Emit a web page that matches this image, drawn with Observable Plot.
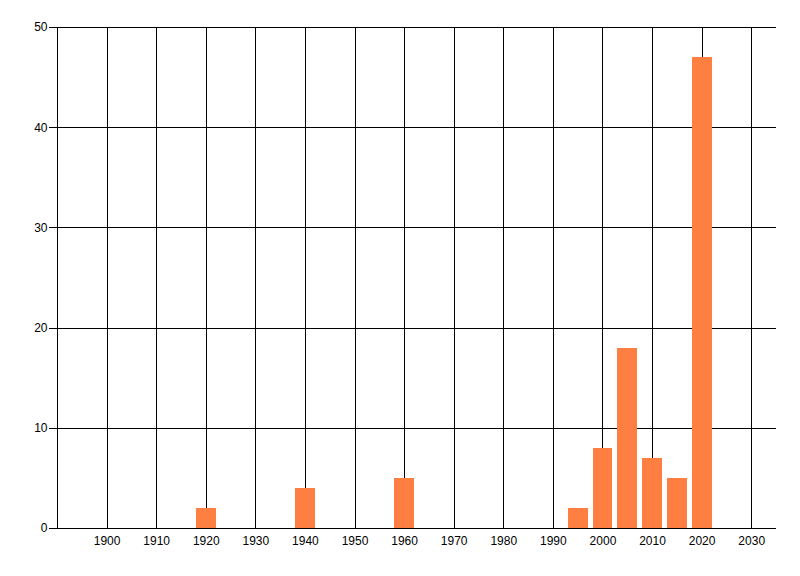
<!DOCTYPE html>
<html>
<head>
<meta charset="utf-8">
<script src="https://cdn.jsdelivr.net/npm/d3@7"></script>
<script src="https://cdn.jsdelivr.net/npm/@observablehq/plot@0.6"></script>
<style>
  html, body { margin: 0; padding: 0; background: #fff; }
  #chart svg { display: block; }
  #chart svg line, #chart svg path, #chart svg rect { shape-rendering: crispEdges; }
</style>
</head>
<body>
<div id="chart"></div>
<script>
const years = [1920, 1940, 1960, 1995, 2000, 2005, 2010, 2015, 2020];
const counts = [2, 4, 5, 2, 8, 18, 7, 5, 47];
const xTicks = [1900, 1910, 1920, 1930, 1940, 1950, 1960, 1970, 1980, 1990, 2000, 2010, 2020, 2030];
const yTicks = [0, 10, 20, 30, 40, 50];

const data = years.map((y, i) => ({year: y, count: counts[i]}));

const chart = Plot.plot({
  width: 800,
  height: 576,
  marginLeft: 57,
  marginRight: 24,
  marginTop: 27,
  marginBottom: 48,
  style: {fontFamily: "'Liberation Sans', Arial, sans-serif", fontSize: "12px", color: "#000", background: "#fff"},
  x: {domain: [1890, 2035], ticks: xTicks, tickFormat: d => String(d), label: null},
  y: {domain: [0, 50], ticks: yTicks, label: null},
  marks: [
    Plot.gridX(xTicks, {stroke: "#000", strokeOpacity: 1, strokeWidth: 1}),
    Plot.gridY(yTicks, {stroke: "#000", strokeOpacity: 1, strokeWidth: 1}),
    Plot.ruleX([1890], {stroke: "#000", strokeWidth: 1}),
    Plot.rectY(data, {x1: d => d.year - 2, x2: d => d.year + 2, y: "count", fill: "#ff7f42", inset: 0}),
    Plot.axisX(xTicks, {tickSize: 0, tickPadding: 8, tickFormat: d => String(d), fontSize: 12}),
    Plot.axisY(yTicks, {tickSize: 8, tickPadding: 2, fontSize: 12})
  ]
});
document.getElementById("chart").appendChild(chart);
</script>
</body>
</html>
